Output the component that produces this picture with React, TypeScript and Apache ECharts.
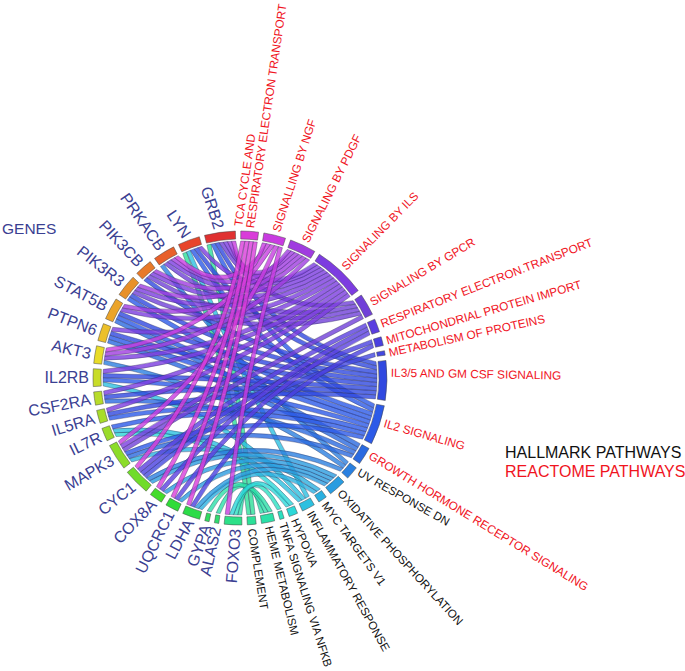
import React, { useEffect, useRef } from "react";
import * as echarts from "echarts";

// ---- data: clockwise from the top of the circle ----
const pathways = [
  "TCA CYCLE AND\nRESPIRATORY ELECTRON TRANSPORT", "SIGNALLING BY NGF", "SIGNALING BY PDGF", "SIGNALING BY ILS",
  "SIGNALING BY GPCR", "RESPIRATORY ELECTRON.TRANSPORT", "MITOCHONDRIAL PROTEIN IMPORT", "METABOLISM OF PROTEINS",
  "IL3/5 AND GM CSF SIGNALING", "IL2 SIGNALING", "GROWTH HORMONE RECEPTOR SIGNALING", "UV RESPONSE DN",
  "OXIDATIVE PHOSPHORYLATION", "MYC TARGETS V1", "INFLAMMATORY RESPONSE", "HYPOXIA", "TNFA SIGNALING VIA NFKB",
  "HEME METABOLISM", "COMPLEMENT",
];
const hallmarkFrom = 11; // pathways from this index on are hallmark (black)
const genes = [
  "FOXO3", "ALAS2", "GYPA", "LDHA", "UQCRC1", "COX8A", "CYC1", "MAPK3", "IL7R", "IL5RA",
  "CSF2RA", "IL2RB", "AKT3", "PTPN6", "STAT5B", "PIK3R3", "PIK3CB", "PRKACB", "LYN", "GRB2",
];
// for each gene, the indices of the pathways it belongs to
const genePathways = [
  [1, 15, 16, 17], [17], [17], [0, 6, 12, 13], [0, 5, 12], [0, 5, 12],
  [0, 5, 6, 7, 11, 12], [1, 3, 4, 9, 10, 13], [9, 14, 15], [3, 8, 9],
  [3, 8, 10], [3, 8, 9, 14], [1, 2, 3, 11], [3, 8, 9, 10], [2, 3, 8, 9, 10],
  [2, 3, 4, 8, 9], [2, 3, 4, 8], [1, 2, 3, 4, 11], [3, 8, 9, 14, 18], [1, 2, 3, 4, 8, 9, 18],
];

const pathwayColors = [
  "#d93cd9", "#c83ce0", "#a03ce0", "#7c3ce0", "#7040d8", "#5a3ee0", "#4a40e0", "#4448e0", "#3048e0", "#2c5ae8",
  "#2a6ae0", "#2a80e0", "#2a9ce0", "#2ab0e0", "#2cc0e0", "#2cd8d8", "#2ce0c0", "#2ce0a8", "#2ce098",
];
const geneColors = [
  "#2ce088", "#30dc70", "#30dc60", "#2cdc48", "#30dc38", "#44dc2a", "#70dc2a", "#8cdc2a", "#9cdc2a", "#a8dc2a",
  "#b8dc2a", "#c8dc28", "#e8dc28", "#ecc02a", "#eba42a", "#e8912a", "#e87a2a", "#e8602a", "#e8452a", "#e03030",
];

// ---- label layout: direction of each label, degrees clockwise from the top ----
const pathwayLabelDir = [8.3, 18, 26.5, 44.5, 59, 68.7, 73.8, 77.7, 91, 106, 121.5, 119.5, 137.4, 144, 151, 157, 162.3, 166.5, 171];
const pathwayLabelShift = [-2.2, 0, 0, 0, 0, 0, 0, 0, -3, -1.5, -1.5, -2, 0, 0, 0, 0, 0, 0, 0];
const geneLabelDir = [184.4, 192.6, 199, 208, 206.5, 223.5, 231, 240, 244, 253, 259, 270, 283, 291, 297.5, 308, 317, 325, 326, 342];
const geneLabelShift = [-1, 0, 0, 0, 0, 0, 0, 0, 0, 0, 0, 0, 0, 0, 0, 0, 0, 0, 0, 0];

const CX = 240, CY = 378, R_OUT = 147, R_IN = 139, R_RIB = 137, R_LABEL = 151;
const GAP = 2.1;

const W = 685, H = 671;
const BLUE = "#3a4092", RED = "#f0141e", BLACK = "#111111";

type Span = { start: number; end: number; mid: number };
const pathwayCounts = pathways.map((_, p) => genePathways.filter((g) => g.includes(p)).length);
const geneCounts = genePathways.map((g) => g.length);
const totalUnits = pathwayCounts.reduce((a, b) => a + b, 0) + geneCounts.reduce((a, b) => a + b, 0);
const UNIT = (360 - GAP * (pathways.length + genes.length)) / totalUnits;

function buildSpans(counts: number[], from: number) {
  let a = from;
  const spans: Span[] = counts.map((c) => {
    const s = { start: a, end: a + c * UNIT, mid: a + (c * UNIT) / 2 };
    a = s.end + GAP;
    return s;
  });
  return { spans, next: a };
}
const pLayout = buildSpans(pathwayCounts, 0.3);
const gLayout = buildSpans(geneCounts, pLayout.next);
const pSpans = pLayout.spans;
const gSpans = gLayout.spans;

const linkRows: [number, number][] = [];
genePathways.forEach((list, g) => list.forEach((p) => linkRows.push([g, p])));

const cwDist = (from: number, to: number) => ((to - from) % 360 + 360) % 360;
function slots(own: Span[], other: Span[], ownIdx: (r: [number, number]) => number, otherIdx: (r: [number, number]) => number) {
  const result = new Map<string, [number, number]>();
  own.forEach((span, i) => {
    const rows = linkRows.filter((r) => ownIdx(r) === i);
    rows.sort((x, y) => cwDist(span.mid, other[otherIdx(y)].mid) - cwDist(span.mid, other[otherIdx(x)].mid));
    rows.forEach((r, k) => {
      result.set(r[0] + "-" + r[1], [span.start + k * UNIT, span.start + (k + 1) * UNIT]);
    });
  });
  return result;
}
const gSlots = slots(gSpans, pSpans, (r) => r[0], (r) => r[1]);
const pSlots = slots(pSpans, gSpans, (r) => r[1], (r) => r[0]);

const rad = (d: number) => (d * Math.PI) / 180;
const pt = (deg: number, r: number): [number, number] => [CX + r * Math.sin(rad(deg)), CY - r * Math.cos(rad(deg))];

function ribbonPath(a0: number, a1: number, b0: number, b1: number) {
  const ac = (a0 + a1) / 2, bc = (b0 + b1) / 2;
  const forward = cwDist(ac, bc) < 180; // clockwise from gene to pathway is the short way
  const aNear = forward ? a1 : a0, aFar = forward ? a0 : a1;
  const bNear = forward ? b0 : b1, bFar = forward ? b1 : b0;
  const half = Math.min(cwDist(ac, bc), 360 - cwDist(ac, bc)) / 2;
  const midAngle = forward ? ac + half : ac - half;
  const w = rad(UNIT) * R_RIB;
  const bow = 0.6 * R_RIB * Math.pow(Math.cos(rad(half)), 1.5);
  const centre = 0.5 * R_RIB * Math.cos(rad(half)) + 0.5 * bow;
  const ctrl = (p: number, q: number, mid: number) => {
    const h = Math.min(cwDist(p, q), cwDist(q, p)) / 2;
    return 2 * mid - R_RIB * Math.cos(rad(h));
  };
  const cFar = ctrl(aFar, bFar, centre - w / 2);
  const cNear = ctrl(aNear, bNear, centre + w / 2);
  const [fx, fy] = pt(aFar, R_RIB), [gx, gy] = pt(bFar, R_RIB), [hx, hy] = pt(bNear, R_RIB), [ix, iy] = pt(aNear, R_RIB);
  const [c1x, c1y] = pt(midAngle, cFar), [c2x, c2y] = pt(midAngle, cNear);
  const s1 = forward ? 0 : 1;
  const s2 = forward ? 1 : 0;
  const f = (n: number) => n.toFixed(2);
  return `M${f(fx)} ${f(fy)}Q${f(c1x)} ${f(c1y)} ${f(gx)} ${f(gy)}A${R_RIB} ${R_RIB} 0 0 ${s1} ${f(hx)} ${f(hy)}Q${f(c2x)} ${f(c2y)} ${f(ix)} ${f(iy)}A${R_RIB} ${R_RIB} 0 0 ${s2} ${f(fx)} ${f(fy)}Z`;
}

// Drawn with the magenta pathways on top, as in the figure.
const ribbonData = [...linkRows].sort((x, y) => y[1] - x[1]);

const nodeData = [
  ...pathways.map((name, i) => ({ value: [i, 0], name })),
  ...genes.map((name, i) => ({ value: [i, 1], name })),
];

function labelElement(text: string, anchor: number, dir: number, color: string, size: number) {
  const [x, y] = pt(anchor, R_LABEL);
  const outward = dir < 180;
  return {
    type: "text",
    x,
    y,
    rotation: outward ? -rad(dir - 90) : -rad(dir - 270),
    silent: true,
    style: {
      x: 0,
      y: 0,
      text,
      fill: color,
      fontSize: size,
      fontFamily: "Liberation Sans, Arial, sans-serif",
      align: outward ? "left" : "right",
      verticalAlign: "middle",
    },
  };
}

export default function App() {
  const ref = useRef<HTMLDivElement>(null);
  useEffect(() => {
    const chart = echarts.init(ref.current!, undefined, { renderer: "svg" });
    chart.setOption({
      animation: false,
      backgroundColor: "#ffffff",
      graphic: [
        { type: "text", x: 2, y: 228, style: { text: "GENES", fill: BLUE, fontSize: 15.5, fontFamily: "Liberation Sans", verticalAlign: "middle" } },
        { type: "text", x: 505, y: 452, style: { text: "HALLMARK PATHWAYS", fill: BLACK, fontSize: 16, fontFamily: "Liberation Sans", verticalAlign: "middle" } },
        { type: "text", x: 505, y: 471, style: { text: "REACTOME PATHWAYS", fill: RED, fontSize: 16, fontFamily: "Liberation Sans", verticalAlign: "middle" } },
      ],
      series: [
        {
          type: "custom",
          coordinateSystem: "none",
          silent: true,
          data: ribbonData,
          renderItem: (params: any) => {
            const [g, p] = ribbonData[params.dataIndex];
            const a = gSlots.get(g + "-" + p)!;
            const b = pSlots.get(g + "-" + p)!;
            return {
              type: "path",
              shape: { pathData: ribbonPath(a[0], a[1], b[0], b[1]) },
              style: { fill: pathwayColors[p], opacity: 0.8, stroke: "#2a2a55", lineWidth: 0.45 },
            };
          },
        },
        {
          type: "custom",
          coordinateSystem: "none",
          silent: true,
          data: nodeData,
          renderItem: (params: any) => {
            const d = nodeData[params.dataIndex];
            const [i, isGene] = d.value;
            const span = isGene ? gSpans[i] : pSpans[i];
            const color = isGene ? geneColors[i] : pathwayColors[i];
            const labelColor = isGene ? BLUE : i >= hallmarkFrom ? BLACK : RED;
            const size = isGene ? 16 : i >= hallmarkFrom ? 11.6 : 11.8;
            const dir = isGene ? geneLabelDir[i] : pathwayLabelDir[i];
            const anchor = span.mid + (isGene ? geneLabelShift[i] : pathwayLabelShift[i]);
            return {
              type: "group",
              children: [
                {
                  type: "sector",
                  shape: {
                    cx: CX,
                    cy: CY,
                    r0: R_IN,
                    r: R_OUT,
                    startAngle: rad(span.start - 90),
                    endAngle: rad(span.end - 90),
                    clockwise: true,
                  },
                  style: { fill: color, stroke: "#444444", lineWidth: 0.5 },
                },
                labelElement(d.name, anchor, dir, labelColor, size),
              ],
            };
          },
        },
      ],
    });
    return () => chart.dispose();
  }, []);
  return <div ref={ref} style={{ position: "absolute", left: 0, top: 0, width: W, height: H }} />;
}
